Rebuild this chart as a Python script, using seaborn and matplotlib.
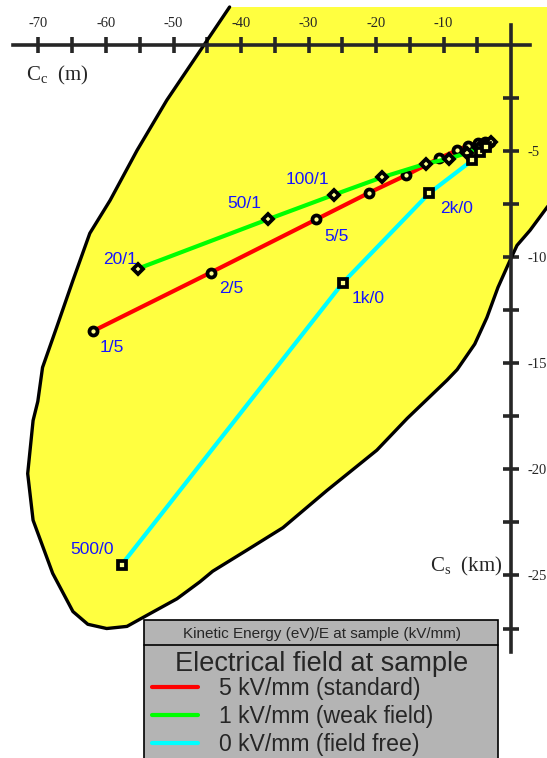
import numpy as np
import pandas as pd
import seaborn as sns
import matplotlib.pyplot as plt
from matplotlib.lines import Line2D
from matplotlib.patches import Rectangle

# C_c (m) on x, C_s (km) on y
red_cc = [-62.0, -44.5, -28.9, -21.1, -15.6, -10.7, -8.0, -6.4, -4.9, -3.9, -3.1]
red_cs = [-13.5, -10.73, -8.23, -6.98, -6.15, -5.35, -4.97, -4.75, -4.64, -4.59, -4.6]
red_lab = ["1/5", "2/5", "5/5"]

green_cc = [-55.3, -36.0, -26.2, -19.2, -12.6, -9.2, -6.6, -4.8, -3.8, -3.0]
green_cs = [-10.55, -8.22, -7.06, -6.25, -5.6, -5.36, -5.1, -4.85, -4.7, -4.6]
green_lab = ["20/1", "50/1", "100/1"]

cyan_cc = [-57.7, -24.9, -12.1, -5.8, -4.6, -3.8]
cyan_cs = [-24.5, -11.2, -6.98, -5.45, -5.05, -4.8]
cyan_lab = ["500/0", "1k/0", "2k/0"]

# outline of the yellow region (C_c, C_s)
region_cc = [-41.7, -51.0, -55.4, -59.4, -62.4, -64.9, -67.3, -69.4, -70.1, -70.8, -71.6,
             -70.8, -67.9, -64.9, -62.7, -59.9, -56.9, -53.5, -49.5, -46.1, -44.2, -39.1,
             -33.8, -27.3, -19.9, -15.4, -9.5, -8.0, -5.4, -3.6, -1.96, -0.18, 0.86, 2.79,
             5.3, 7.2]
region_cs = [1.78, -2.61, -4.97, -7.33, -8.88, -11.1, -13.3, -15.2, -16.8, -17.7, -20.2,
             -22.4, -24.9, -26.7, -27.3, -27.5, -27.4, -26.8, -26.1, -25.3, -24.8, -23.8,
             -22.75, -21.0, -19.1, -17.6, -15.8, -15.3, -14.1, -12.85, -11.43, -10.16, -9.45,
             -8.74, -7.66, -6.9]

legend_labels = ["5 kV/mm (standard)", "1 kV/mm (weak field)", "0 kV/mm (field free)"]
colors = ["#ff0000", "#00ff00", "#00ffff"]

sns.set_style("white")
plt.rcParams['font.family'] = ['Liberation Serif', 'DejaVu Sans']
plt.rcParams['axes.unicode_minus'] = False
plt.rcParams['mathtext.fontset'] = 'custom'
plt.rcParams['mathtext.rm'] = 'Liberation Serif'

fig = plt.figure(figsize=(5.47, 7.58), dpi=100)
ax = fig.add_axes([0, 0, 1, 1])
ax.set_xlim(-75.7, 5.3)
ax.set_ylim(-33.6, 2.11)

# yellow region
ax.fill(region_cc + [10, 10], region_cs + [1.78, 1.78], color="#ffff40", zorder=0, lw=0)
ax.plot(region_cc, region_cs, color="black", lw=2.4, zorder=1, solid_joinstyle="round")

yellow_face = "#ffff90"
series = [(red_cc, red_cs, "o", 5.8, colors[0], red_lab),
          (green_cc, green_cs, "D", 5.0, colors[1], green_lab),
          (cyan_cc, cyan_cs, "s", 5.8, colors[2], cyan_lab)]
for cc, cs, mk, ms, col, lab in series:
    df = pd.DataFrame({"cc": cc, "cs": cs})
    sns.lineplot(data=df, x="cc", y="cs", sort=False, estimator=None, color=col, lw=3,
                 marker=mk, ms=ms, markeredgecolor="black", markeredgewidth=2.7,
                 markerfacecolor=yellow_face, ax=ax, legend=False, zorder=3)
ax.set_xlabel("")
ax.set_ylabel("")

# point labels (kinetic energy / field)
offsets = [(14, -11.5), (15, -11.5), (15, -12),
           (-13, 7), (-17, 11.5), (-19.5, 11),
           (-21.5, 11), (18, -11.5), (19.5, -11)]
i = 0
for cc, cs, mk, ms, col, lab in series:
    for j, t in enumerate(lab):
        ax.annotate(t, (cc[j], cs[j]), xytext=offsets[i], textcoords="offset points",
                    ha="center", va="center", color="#1515ff", fontsize=12.5,
                    family="Liberation Sans", zorder=5)
        i += 1

# axes crossing at the origin
for s in ["left", "bottom"]:
    ax.spines[s].set_visible(False)
ax.spines["top"].set_position(("data", 0))
ax.spines["top"].set_bounds(-73.8, 2.8)
ax.spines["right"].set_position(("data", 0))
ax.spines["right"].set_bounds(-28.6, 0.93)
for s in ["top", "right"]:
    ax.spines[s].set_linewidth(2.6)
    ax.spines[s].set_zorder(4)
ax.xaxis.set_ticks_position("top")
ax.yaxis.set_ticks_position("right")
xt = np.arange(-70, 0, 5)
ax.set_xticks(xt)
ax.set_xticklabels([str(v) if v % 10 == 0 else "" for v in xt])
yt = np.arange(-2.5, -28, -2.5)
ax.set_yticks(yt)
ax.set_yticklabels([str(int(v)) if v % 5 == 0 else "" for v in yt])
ax.tick_params(direction="inout", length=11.5, width=2.6, labelsize=10.5, pad=5)
ax.tick_params(axis="y", pad=6)
ax.grid(False)

ax.text(-71.9, -1.43, r"C$_{\mathrm{c}}$  (m)", fontsize=15, ha="left", va="center")
ax.text(-12.0, -24.6, r"C$_{\mathrm{s}}$  (km)", fontsize=15, ha="left", va="center")

# legend box
W, H = 547, 758
fig.add_artist(Rectangle((144 / W, -0.01), (498 - 144) / W, (H - 620) / H + 0.01,
                         transform=fig.transFigure, facecolor="#b4b4b4", edgecolor="black",
                         lw=1.2, zorder=6))
fig.add_artist(Line2D([144 / W, 498 / W], [1 - 645 / H, 1 - 645 / H],
                      transform=fig.transFigure, color="black", lw=1.2, zorder=7))
fig.text(322 / W, 1 - 634 / H, "Kinetic Energy (eV)/E at sample (kV/mm)", ha="center",
         va="center", fontsize=11, family="Liberation Sans", zorder=8)
fig.text(322 / W, 1 - 664 / H, "Electrical field at sample", ha="center",
         va="center", fontsize=19.5, family="Liberation Sans", zorder=8)
handles = [Line2D([], [], color=c, lw=3) for c in colors]
leg = fig.legend(handles, legend_labels, loc="upper left",
                 bbox_to_anchor=(152 / W, 1 - 677 / H),
                 frameon=False, prop={"family": "Liberation Sans", "size": 16.6},
                 handlelength=2.0, handletextpad=0.9, labelspacing=0.22, borderpad=0,
                 borderaxespad=0)
leg.set_zorder(9)

fig.savefig("out.png", dpi=100)
